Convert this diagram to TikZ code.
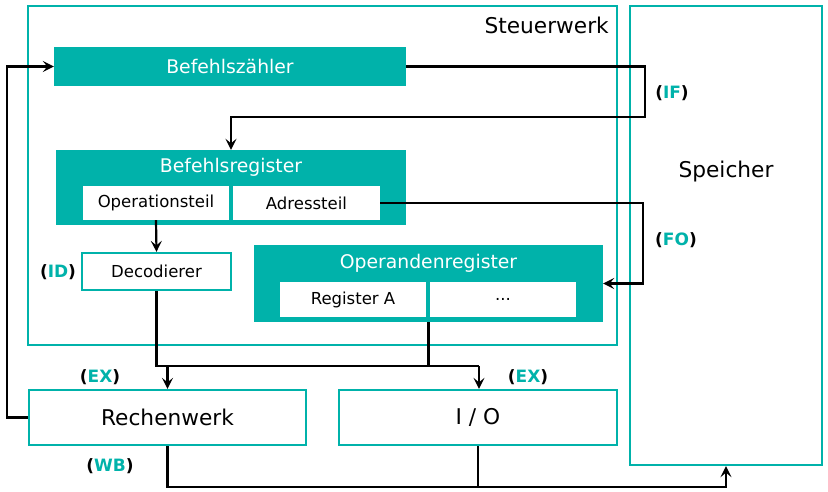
\documentclass[tikz,border=0pt]{standalone}
\usepackage{fontspec}
\setmainfont{DejaVu Sans}
\usetikzlibrary{arrows.meta}
\definecolor{teal1}{RGB}{0,178,170}
\tikzset{
  box/.style={draw=teal1,line width=2.3pt,fill=white,inner sep=0pt},
  filled/.style={fill=teal1,inner sep=0pt,text=white},
  inner/.style={fill=white,inner sep=0pt,font=\fontsize{16.5}{18}\selectfont},
  conn/.style={line width=2.2pt,black},
  arr/.style={conn,-{Stealth[length=11pt,width=11pt,inset=4.5pt]}},
  lbl/.style={font=\bfseries\fontsize{17}{19}\selectfont,inner sep=0pt},
  big/.style={font=\fontsize{21.7}{24}\selectfont},
  mid/.style={font=\fontsize{18.8}{21}\selectfont},
}
\newcommand{\stage}[1]{(\textcolor{teal1}{#1})}
\begin{document}
\begin{tikzpicture}[x=1pt,y=-1pt]
\useasboundingbox (0,0) rectangle (828,491);
% containers
\node[box,minimum width=589pt,minimum height=339pt] (sw) at (322.5,175.5) {};
\node[big,anchor=base east,inner sep=0pt] (swl) at (609,33) {Steuerwerk};
\node[box,minimum width=192pt,minimum height=459pt] (sp) at (726,235.5) {};
\node[big,inner sep=0pt] (spl) at (726,172) {Speicher};
% Befehlszaehler
\node[filled,mid,minimum width=352pt,minimum height=39pt] (bz) at (230,66.5) {Befehlszähler};
% Befehlsregister
\node[filled,minimum width=350pt,minimum height=75pt] (br) at (231,187.5) {};
\node[mid,text=white,inner sep=0pt] (brl) at (231,167) {Befehlsregister};
\node[inner,minimum width=146pt,minimum height=34pt] (op) at (156,203) {Operationsteil};
\node[inner,minimum width=147pt,minimum height=34pt] (ad) at (306.5,203) {Adressteil};
% Decodierer
\node[box,font=\fontsize{16.5}{18}\selectfont,minimum width=149pt,minimum height=37pt] (dec) at (156.5,271.5) {Decodierer};
% Operandenregister
\node[filled,minimum width=349pt,minimum height=77pt] (or) at (428.5,283.5) {};
\node[mid,text=white,inner sep=0pt] (orl) at (428.5,263) {Operandenregister};
\node[inner,minimum width=146pt,minimum height=35pt] (ra) at (353,299.5) {Register A};
\node[inner,minimum width=146pt,minimum height=35pt] (rx) at (503,299.5) {...};
% Rechenwerk, I/O
\node[box,big,minimum width=277pt,minimum height=55pt] (rw) at (167.5,417.5) {Rechenwerk};
\node[box,big,minimum width=278pt,minimum height=55pt] (io) at (478,417.5) {I / O};
% connectors
\draw[arr] (bz.east) -- (645,66.5) -- (645,117) -| (br.north);
\draw[arr] (ad.east) -- (643,203) |- (or.east);
\draw[arr] (op.south) -- (dec.north);
\coordinate (j1) at (156.5,366);
\coordinate (j2) at (479,366);
\draw[conn] (dec.south) -- (j1) -- (j2);
\draw[conn] (or.south) -- (or.south |- j1);
\draw[arr] (rw.north |- j1) -- (rw.north);
\draw[arr] (j2) -- (j2 |- io.north);
\draw[arr] (rw.west) -- (7,417.5) |- (bz.west);
\draw[arr] (rw.south) -- (167.5,487) -| (sp.south);
\draw[conn] (io.south) -- (io.south |- 0,487);
% stage labels
\node[lbl] (lif) at (672,93) {\stage{IF}};
\node[lbl] (lfo) at (676,240) {\stage{FO}};
\node[lbl] (lid) at (58,272) {\stage{ID}};
\node[lbl] (lex1) at (100,377) {\stage{EX}};
\node[lbl] (lex2) at (528,377) {\stage{EX}};
\node[lbl] (lwb) at (110,466) {\stage{WB}};
\end{tikzpicture}
\end{document}
